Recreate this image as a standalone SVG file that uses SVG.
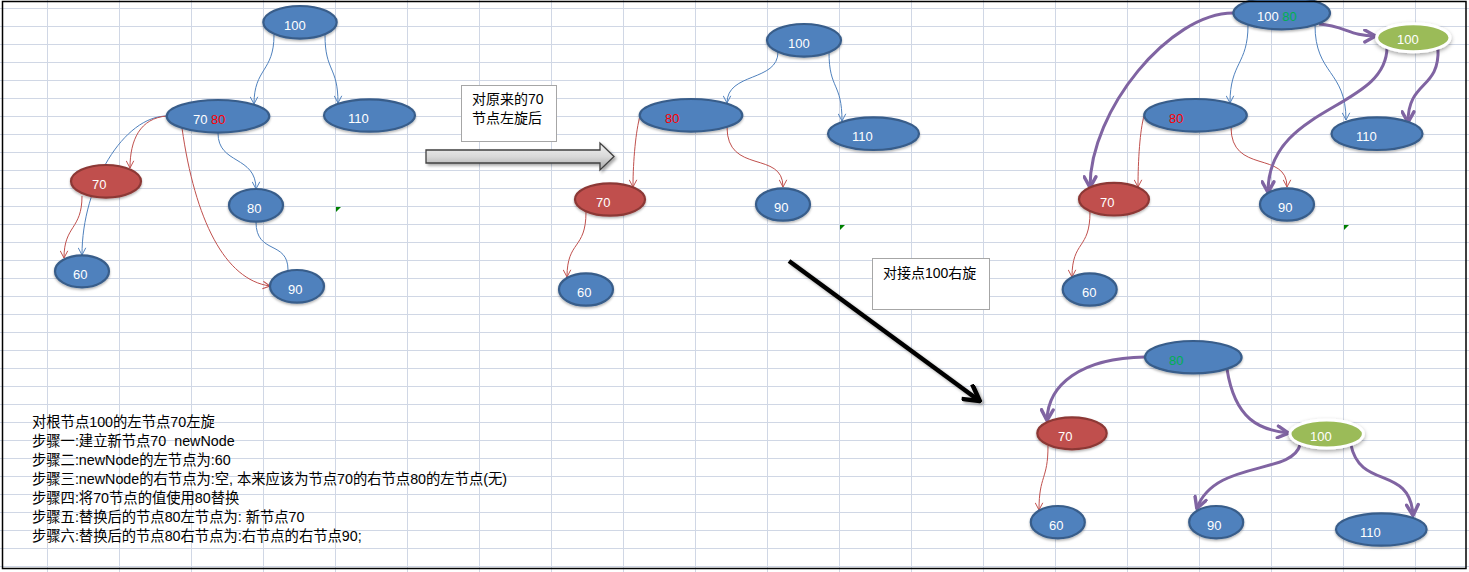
<svg xmlns="http://www.w3.org/2000/svg" width="1469" height="572" viewBox="0 0 1469 572">
<style>
.grid{stroke:#d0d7e5;stroke-width:1;fill:none}
.nb{fill:#4f81bd;stroke:#385d8a;stroke-width:2.2}
.nr{fill:#c0504d;stroke:#8c3836;stroke-width:2.2}
.ng{fill:#9bbb59;stroke:#ffffff;stroke-width:3}
.lbl{font-family:"Liberation Sans",Arial,sans-serif;font-size:13px;fill:#ffffff}
.cb{fill:none;stroke:#4f81bd;stroke-width:1}
.cr{fill:none;stroke:#c0504d;stroke-width:1}
.cp{fill:none;stroke:#8064a2;stroke-width:3}
.box{fill:#ffffff;stroke:#a6a6a6;stroke-width:1}
.txt{font-family:"Liberation Sans","Noto Sans CJK SC",sans-serif;font-size:14px;fill:#000000}
.note{font-family:"Liberation Sans","Noto Sans CJK SC",sans-serif;font-size:14.3px;fill:#000000;white-space:pre}
</style>
<defs>
<filter id="sh" x="-20%" y="-30%" width="140%" height="170%">
<feDropShadow dx="0" dy="1.5" stdDeviation="1.2" flood-color="#000" flood-opacity="0.3"/>
</filter>
<filter id="shg" x="-30%" y="-40%" width="160%" height="190%">
<feDropShadow dx="0" dy="2" stdDeviation="2" flood-color="#000" flood-opacity="0.35"/>
</filter>
<filter id="sha" x="-10%" y="-10%" width="130%" height="130%">
<feDropShadow dx="2" dy="2" stdDeviation="1.5" flood-color="#000" flood-opacity="0.35"/>
</filter>
<linearGradient id="ga" x1="0" y1="0" x2="0" y2="1">
<stop offset="0" stop-color="#f2f2f2"/>
<stop offset="0.5" stop-color="#d9d9d9"/>
<stop offset="1" stop-color="#a6a6a6"/>
</linearGradient>
<marker id="mb" viewBox="0 0 10 10" refX="9" refY="5" markerWidth="9" markerHeight="9" markerUnits="userSpaceOnUse" orient="auto">
<path d="M1,0.8 L9,5 L1,9.2" fill="none" stroke="#4f81bd" stroke-width="1.1"/>
</marker>
<marker id="mr" viewBox="0 0 10 10" refX="9" refY="5" markerWidth="9" markerHeight="9" markerUnits="userSpaceOnUse" orient="auto">
<path d="M1,0.8 L9,5 L1,9.2" fill="none" stroke="#c0504d" stroke-width="1.1"/>
</marker>
<marker id="mp" viewBox="0 0 14 14" refX="11.5" refY="7" markerWidth="15" markerHeight="15" markerUnits="userSpaceOnUse" orient="auto">
<path d="M2,1.5 L12,7 L2,12.5" fill="none" stroke="#8064a2" stroke-width="3.2" stroke-linecap="round" stroke-linejoin="round"/>
</marker>
<marker id="mk" viewBox="0 0 20 20" refX="17" refY="10" markerWidth="20" markerHeight="20" markerUnits="userSpaceOnUse" orient="auto">
<path d="M2,1 L18,10 L2,19" fill="none" stroke="#000" stroke-width="4.5" stroke-linejoin="miter"/>
</marker>
</defs>
<rect x="0" y="0" width="1469" height="572" fill="#ffffff"/>
<g id="grid">
<path class="grid" d="M0,8.5H1469M0,26.5H1469M0,44.5H1469M0,62.5H1469M0,80.5H1469M0,98.5H1469M0,116.5H1469M0,134.5H1469M0,152.5H1469M0,170.5H1469M0,188.5H1469M0,206.5H1469M0,224.5H1469M0,242.5H1469M0,260.5H1469M0,278.5H1469M0,296.5H1469M0,314.5H1469M0,332.5H1469M0,350.5H1469M0,368.5H1469M0,386.5H1469M0,404.5H1469M0,422.5H1469M0,440.5H1469M0,458.5H1469M0,476.5H1469M0,494.5H1469M0,512.5H1469M0,530.5H1469M0,548.5H1469M0,566.5H1469"/>
<path class="grid" d="M47.5,0V572M119.5,0V572M191.5,0V572M263.5,0V572M335.5,0V572M407.5,0V572M479.5,0V572M551.5,0V572M623.5,0V572M695.5,0V572M767.5,0V572M839.5,0V572M911.5,0V572M983.5,0V572M1055.5,0V572M1127.5,0V572M1199.5,0V572M1271.5,0V572M1343.5,0V572M1415.5,0V572"/>
<polygon points="336,207 341,207 336,212" fill="#008000"/>
<polygon points="840,225 845,225 840,230" fill="#008000"/>
<polygon points="1344,225 1349,225 1344,230" fill="#008000"/>
</g>
<g id="connectors">
<path class="cb" d="M274,35 C274,72 254,68 254,104" marker-end="url(#mb)"/>
<path class="cb" d="M325,35 C325,72 338,66 338,103" marker-end="url(#mb)"/>
<path class="cb" d="M167,116 C124,116 82,185 82,255" marker-end="url(#mb)"/>
<path class="cr" d="M167,116 C140,118 130,140 130,168" marker-end="url(#mr)"/>
<path class="cr" d="M82,196 C82,230 64,225 64,258" marker-end="url(#mr)"/>
<path class="cr" d="M182,128 C195,220 225,280 270,286" marker-end="url(#mr)"/>
<path class="cb" d="M218,133 C218,165 256,155 256,189" marker-end="url(#mb)"/>
<path class="cb" d="M256,222 C256,255 288,240 288,270"/>
<path class="cb" d="M778,52 C778,82 727,72 727,103" marker-end="url(#mb)"/>
<path class="cb" d="M829,52 C829,90 842,82 842,121" marker-end="url(#mb)"/>
<path class="cr" d="M640,116 C636,130 633,160 633,187" marker-end="url(#mr)"/>
<path class="cr" d="M727,127 C727,175 783,150 783,187" marker-end="url(#mr)"/>
<path class="cr" d="M586,212 C586,250 567,240 567,277" marker-end="url(#mr)"/>
<path class="cb" d="M1248,25 C1248,65 1230,62 1230,103" marker-end="url(#mb)"/>
<path class="cb" d="M1315,25 C1315,75 1346,70 1346,120" marker-end="url(#mb)"/>
<path class="cr" d="M1144,116 C1140,130 1138,160 1138,187" marker-end="url(#mr)"/>
<path class="cr" d="M1231,127 C1231,175 1287,150 1287,187" marker-end="url(#mr)"/>
<path class="cr" d="M1090,212 C1090,250 1072,240 1072,277" marker-end="url(#mr)"/>
<path class="cp" d="M1233,13 C1170,13 1090,110 1090,187" marker-end="url(#mp)"/>
<path class="cp" d="M1319,24 C1345,26 1350,36 1375,36" marker-end="url(#mp)"/>
<path class="cp" d="M1387,47 C1387,110 1268,105 1268,192" marker-end="url(#mp)"/>
<path class="cp" d="M1438,48 C1440,90 1408,80 1408,122" marker-end="url(#mp)"/>
<path class="cp" d="M1145,357 C1080,358 1048,385 1047,420" marker-end="url(#mp)"/>
<path class="cp" d="M1227,369 C1235,420 1260,430 1288,433" marker-end="url(#mp)"/>
<path class="cp" d="M1300,445 C1292,475 1215,460 1197,508" marker-end="url(#mp)"/>
<path class="cp" d="M1351,445 C1360,490 1410,465 1413,515" marker-end="url(#mp)"/>
<path class="cr" d="M1048,446 C1048,480 1039,475 1039,510" marker-end="url(#mr)"/>
<path d="M426,150 L600,150 L600,143 L614,156.5 L600,170 L600,163 L426,163 Z" fill="url(#ga)" stroke="#404040" stroke-width="1.3" filter="url(#sha)"/>
<path d="M789,261 L979,400.5" fill="none" stroke="#000" stroke-width="4.5" marker-end="url(#mk)" filter="url(#sha)"/>
</g>
<g id="L100"><ellipse class="nb" cx="300" cy="22.3" rx="36.7" ry="16.3" filter="url(#sh)"/><text class="lbl" x="284" y="30">100</text></g>
<g id="L7080"><ellipse class="nb" cx="218" cy="116.3" rx="51.3" ry="16.3" filter="url(#sh)"/><text class="lbl" x="193" y="123.5">70 <tspan style="fill:#ff0000">80</tspan></text></g>
<g id="L110"><ellipse class="nb" cx="369.5" cy="115.5" rx="45.5" ry="16.2" filter="url(#sh)"/><text class="lbl" x="348" y="123">110</text></g>
<g id="L70"><ellipse class="nr" cx="106" cy="181.3" rx="35" ry="16.3" filter="url(#sh)"/><text class="lbl" x="92" y="189">70</text></g>
<g id="L80"><ellipse class="nb" cx="256" cy="205.3" rx="27" ry="16.3" filter="url(#sh)"/><text class="lbl" x="247" y="213">80</text></g>
<g id="L60"><ellipse class="nb" cx="82" cy="271.3" rx="27" ry="16" filter="url(#sh)"/><text class="lbl" x="73" y="279">60</text></g>
<g id="L90"><ellipse class="nb" cx="297" cy="286.3" rx="27" ry="16.3" filter="url(#sh)"/><text class="lbl" x="288" y="294">90</text></g>
<g id="M100"><ellipse class="nb" cx="804" cy="40.3" rx="37" ry="16.3" filter="url(#sh)"/><text class="lbl" x="788" y="48">100</text></g>
<g id="M80"><ellipse class="nb" cx="691" cy="115.3" rx="51.3" ry="16.3" filter="url(#sh)"/><text class="lbl" x="665" y="123" style="fill:#ff0000">80</text></g>
<g id="M110"><ellipse class="nb" cx="873.5" cy="133.7" rx="45.5" ry="16.3" filter="url(#sh)"/><text class="lbl" x="852" y="141">110</text></g>
<g id="M70"><ellipse class="nr" cx="610" cy="199.5" rx="35" ry="16.2" filter="url(#sh)"/><text class="lbl" x="596" y="207">70</text></g>
<g id="M90"><ellipse class="nb" cx="783" cy="204.5" rx="27" ry="16.2" filter="url(#sh)"/><text class="lbl" x="774" y="212">90</text></g>
<g id="M60"><ellipse class="nb" cx="586" cy="289.5" rx="27" ry="16.2" filter="url(#sh)"/><text class="lbl" x="577" y="297">60</text></g>
<g id="R10080"><ellipse class="nb" cx="1281.7" cy="13" rx="48.3" ry="16.3" filter="url(#sh)"/><text class="lbl" x="1257" y="21">100 <tspan style="fill:#00b050">80</tspan></text></g>
<g id="R100g"><ellipse class="ng" cx="1413.3" cy="37.8" rx="36.7" ry="14" filter="url(#shg)"/><text class="lbl" x="1397" y="44">100</text></g>
<g id="R80"><ellipse class="nb" cx="1195.5" cy="115.3" rx="51.3" ry="16.3" filter="url(#sh)"/><text class="lbl" x="1169" y="123" style="fill:#ff0000">80</text></g>
<g id="R110"><ellipse class="nb" cx="1377" cy="133.7" rx="45.5" ry="16.3" filter="url(#sh)"/><text class="lbl" x="1356" y="141">110</text></g>
<g id="R70"><ellipse class="nr" cx="1114" cy="199.2" rx="35" ry="16.3" filter="url(#sh)"/><text class="lbl" x="1100" y="207">70</text></g>
<g id="R90"><ellipse class="nb" cx="1287" cy="204.5" rx="27" ry="16.2" filter="url(#sh)"/><text class="lbl" x="1278" y="212">90</text></g>
<g id="R60"><ellipse class="nb" cx="1089.7" cy="289.5" rx="27" ry="16.2" filter="url(#sh)"/><text class="lbl" x="1082" y="297">60</text></g>
<g id="B80"><ellipse class="nb" cx="1193.3" cy="357.2" rx="48.3" ry="16.2" filter="url(#sh)"/><text class="lbl" x="1169" y="365" style="fill:#00b050">80</text></g>
<g id="B70"><ellipse class="nr" cx="1072" cy="433.3" rx="34.7" ry="16" filter="url(#sh)"/><text class="lbl" x="1058" y="441">70</text></g>
<g id="B100g"><ellipse class="ng" cx="1326.7" cy="434" rx="36.7" ry="14" filter="url(#shg)"/><text class="lbl" x="1310" y="441">100</text></g>
<g id="B60"><ellipse class="nb" cx="1057.8" cy="522.2" rx="27" ry="16.2" filter="url(#sh)"/><text class="lbl" x="1049" y="530">60</text></g>
<g id="B90"><ellipse class="nb" cx="1216.2" cy="522.2" rx="27" ry="16.2" filter="url(#sh)"/><text class="lbl" x="1207" y="530">90</text></g>
<g id="B110"><ellipse class="nb" cx="1381.3" cy="529.5" rx="45.3" ry="16.2" filter="url(#sh)"/><text class="lbl" x="1360" y="537">110</text></g>
<g id="box1"><rect class="box" x="461.5" y="85.5" width="95" height="56"/><text class="txt" x="472" y="104">对原来的70</text><text class="txt" x="472" y="122.5">节点左旋后</text></g>
<g id="box2"><rect class="box" x="872.5" y="258.5" width="117" height="51"/><text class="txt" x="883" y="277.5">对接点100右旋</text></g>
<g id="notes">
<text class="note" x="32" y="427">对根节点100的左节点70左旋</text>
<text class="note" x="32" y="446" xml:space="preserve">步骤一:建立新节点70  newNode</text>
<text class="note" x="32" y="465">步骤二:newNode的左节点为:60</text>
<text class="note" x="32" y="484">步骤三:newNode的右节点为:空, 本来应该为节点70的右节点80的左节点(无)</text>
<text class="note" x="32" y="503">步骤四:将70节点的值使用80替换</text>
<text class="note" x="32" y="522">步骤五:替换后的节点80左节点为: 新节点70</text>
<text class="note" x="32" y="541">步骤六:替换后的节点80右节点为:右节点的右节点90;</text>
</g>
<rect x="2.5" y="1.5" width="1463.5" height="567" fill="none" stroke="#000" stroke-width="1.5"/>
</svg>
